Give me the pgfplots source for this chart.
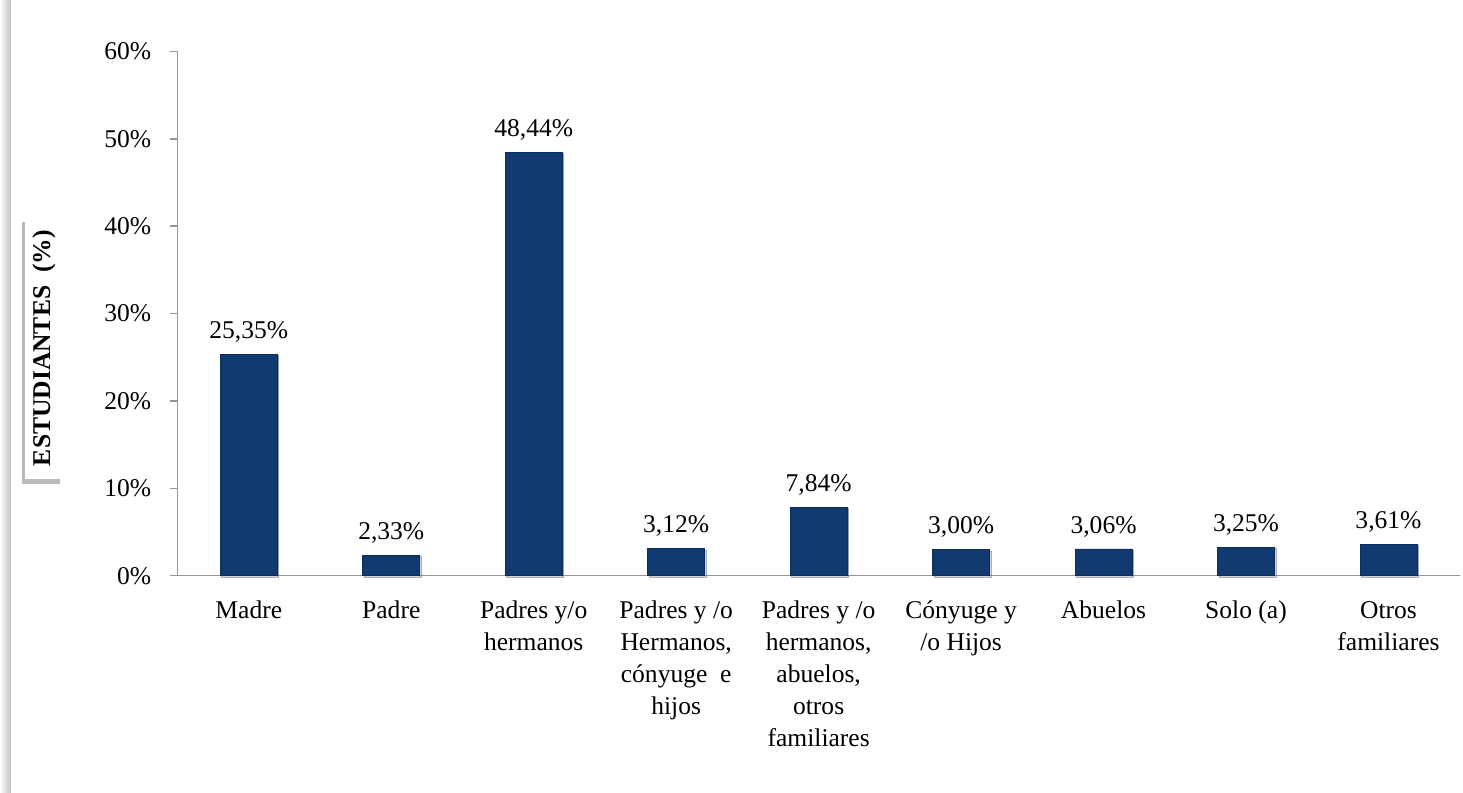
\documentclass[border=0pt]{standalone}
\usepackage{pgfplots}
\pgfplotsset{compat=1.18}
\usepackage{fontspec}
\setmainfont{Liberation Serif}
\usetikzlibrary{shadows}
\definecolor{barblue}{RGB}{16,58,112}
\definecolor{axgray}{RGB}{150,150,150}
\begin{document}
\begin{tikzpicture}[font=\fontsize{25.6bp}{32bp}\selectfont]
\path (0,0) rectangle (1463bp,794bp);
\shade[left color=white, right color=black!25] (0bp,0bp) rectangle (11bp,794bp);
\begin{axis}[
  at={(178bp,217bp)}, anchor=south west,
  scale only axis, width=1285bp, height=525.5bp,
  xmin=-0.5, xmax=8.5, ymin=0, ymax=60,
  axis x line*=bottom, axis y line*=left,
  axis line style={axgray, line width=1.5bp},
  every tick/.style={axgray, line width=1.5bp},
  tick align=outside,
  xtick={0,...,8},
  major x tick style={draw=none},
  xticklabels={Madre, Padre, {Padres y/o\\hermanos}, {Padres y /o\\Hermanos,\\cónyuge\ \ e\\hijos}, {Padres y /o\\hermanos,\\abuelos,\\otros\\familiares}, {Cónyuge y\\/o Hijos}, Abuelos, Solo (a), {Otros\\familiares}},
  xticklabel style={align=center, anchor=north, yshift=-14bp, font=\fontsize{25.6bp}{32bp}\selectfont},
  extra x ticks={-0.5,0.5,...,8.5},
  extra x tick labels={},
  extra x tick style={major tick length=8bp, tick style={axgray, line width=1.5bp}},
  ytick={0,10,...,60},
  major tick length=8bp,
  yticklabel={\pgfmathprintnumber{\tick}\%},
  yticklabel style={xshift=-15bp},
  /pgf/number format/assume math mode=true,
  ybar, bar width=57bp,
  nodes near coords={\pgfmathprintnumber[fixed, fixed zerofill, precision=2, use comma]{\pgfplotspointmeta}\%},
  every node near coord/.append style={font=\fontsize{25.6bp}{32bp}\selectfont, black, yshift=8bp},
  clip=false,
]
\addplot[fill=barblue, draw=barblue!80!black, line width=0.8bp,
  drop shadow={shadow xshift=1.5bp, shadow yshift=-1.5bp, opacity=0.35}]
  coordinates {(0,25.35) (1,2.33) (2,48.44) (3,3.12) (4,7.84) (5,3.00) (6,3.06) (7,3.25) (8,3.61)};
\end{axis}
\node[fill=white, rotate=90, minimum width=262bp, minimum height=38bp, inner sep=0pt,
  drop shadow={shadow xshift=-3bp, shadow yshift=-5bp, opacity=0.45, fill=black!60}]
  at (44bp,445bp) {\bfseries ESTUDIANTES\ \ (\%)};
\end{tikzpicture}
\end{document}
